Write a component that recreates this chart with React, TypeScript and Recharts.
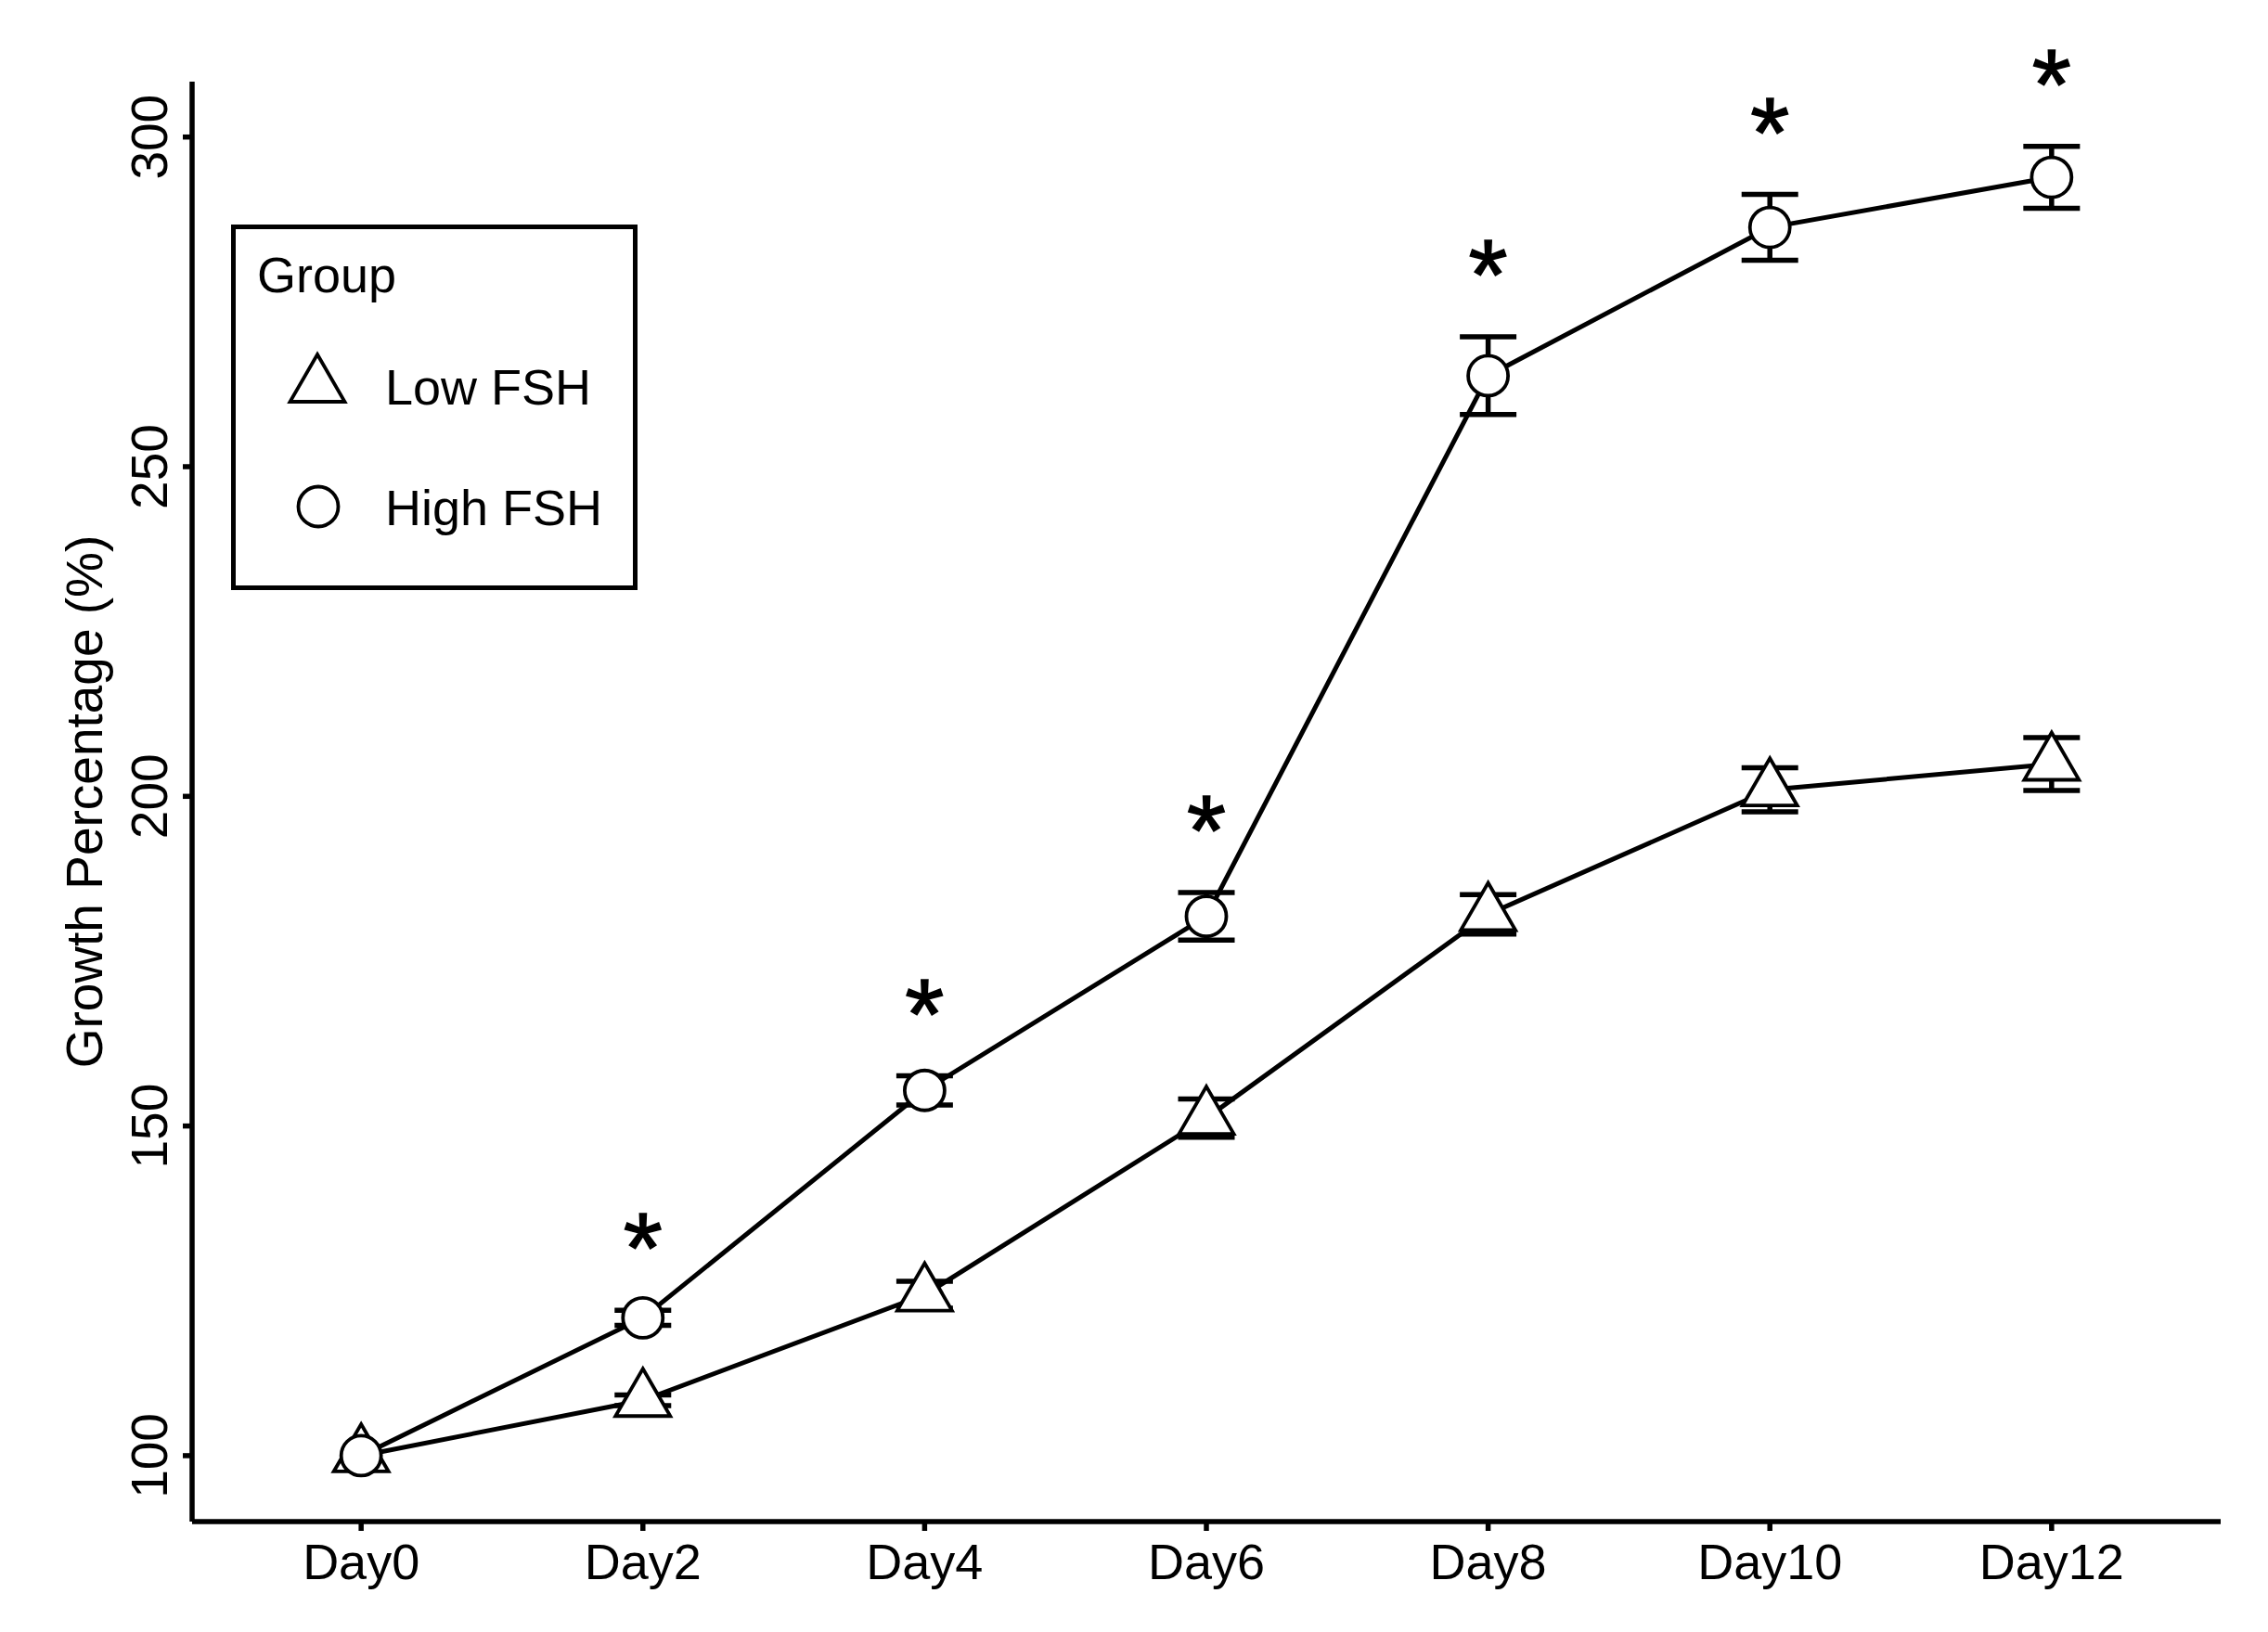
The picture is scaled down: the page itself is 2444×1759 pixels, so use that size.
import { LineChart, Line, XAxis, YAxis, ErrorBar, Legend } from 'recharts';

// growth (% of Day0) per group, mean and SE
const DAYS = [0, 2, 4, 6, 8, 10, 12];
const LOW_FSH = [100, 108.4, 124.4, 151.2, 182.1, 201.0, 204.9];
const LOW_FSH_SE = [0, 0.8, 2.05, 2.9, 3.0, 3.35, 4.0];
const HIGH_FSH = [100, 120.9, 155.4, 181.8, 263.8, 286.3, 293.9];
const HIGH_FSH_SE = [0, 1.15, 2.2, 3.6, 5.9, 5.0, 4.7];
const SIGNIFICANT = [false, true, true, true, true, true, true];
const Y_TICKS = [100, 150, 200, 250, 300];
const LEGEND_ORDER = ['low', 'high'];

const FONT = '"Liberation Sans", Arial, Helvetica, sans-serif';

const data = DAYS.map((day, i) => ({
  day,
  low: LOW_FSH[i],
  lowErr: LOW_FSH_SE[i],
  high: HIGH_FSH[i],
  highErr: HIGH_FSH_SE[i],
  star: SIGNIFICANT[i] ? HIGH_FSH[i] + HIGH_FSH_SE[i] : null,
}));

function TriangleMark({ cx, cy }: { cx: number; cy: number }) {
  return (
    <path
      d={`M${cx},${cy - 34}L${cx + 29.5},${cy + 17}L${cx - 29.5},${cy + 17}Z`}
      fill="#fff"
      stroke="#000"
      strokeWidth={3.8}
    />
  );
}

function CircleMark({ cx, cy }: { cx: number; cy: number }) {
  return <circle cx={cx} cy={cy} r={21.5} fill="#fff" stroke="#000" strokeWidth={3.8} />;
}

const renderTriangle = (p: any) =>
  p.cx == null || p.cy == null ? null : <TriangleMark key={`t${p.index}`} cx={p.cx} cy={p.cy} />;
const renderCircle = (p: any) =>
  p.cx == null || p.cy == null ? null : <CircleMark key={`c${p.index}`} cx={p.cx} cy={p.cy} />;

// asterisk sits a fixed distance above the upper error cap
const renderStar = (p: any) => {
  if (p.cx == null || p.cy == null || p.value == null) return null;
  return (
    <text
      key={`s${p.index}`}
      x={p.cx}
      y={p.cy - 30}
      textAnchor="middle"
      fontSize={108}
      fontFamily={FONT}
      fill="#000"
      stroke="#000"
      strokeWidth={1.5}
    >
      *
    </text>
  );
};

const YTick = (props: any) => {
  const { x, y, payload } = props;
  return (
    <text
      x={x}
      y={y}
      transform={`rotate(-90, ${x}, ${y})`}
      textAnchor="middle"
      fontSize={55}
      fontFamily={FONT}
      fill="#000"
    >
      {payload.value}
    </text>
  );
};

const YLabel = (props: any) => {
  const vb = props.viewBox || { x: 0, y: 88, width: 207, height: 1552 };
  const x = vb.x + 110;
  const y = vb.y + vb.height / 2;
  return (
    <text
      x={x}
      y={y}
      transform={`rotate(-90, ${x}, ${y})`}
      textAnchor="middle"
      fontSize={55}
      fontFamily={FONT}
      fill="#000"
    >
      Growth Percentage (%)
    </text>
  );
};

const renderLegend = (props: any) => {
  const items = (props.payload || [])
    .filter((e: any) => LEGEND_ORDER.includes(e.dataKey) && e.type !== 'none')
    .sort((a: any, b: any) => LEGEND_ORDER.indexOf(a.dataKey) - LEGEND_ORDER.indexOf(b.dataKey));
  return (
    <svg width={438} height={394} style={{ display: 'block' }}>
      <rect x={2.5} y={2.5} width={433} height={389} fill="#fff" stroke="#000" strokeWidth={5} />
      <text x={28} y={73} fontSize={54} fontFamily={FONT} fill="#000">
        Group
      </text>
      {items.map((e: any, i: number) => {
        const cy = 174 + i * 130;
        return (
          <g key={e.value}>
            {e.dataKey === 'low' ? <TriangleMark cx={93} cy={cy} /> : <CircleMark cx={94} cy={cy} />}
            <text x={166} y={cy + 20} fontSize={54} fontFamily={FONT} fill="#000">
              {e.value}
            </text>
          </g>
        );
      })}
    </svg>
  );
};

export default function App() {
  return (
    <div style={{ position: 'absolute', left: 0, top: 0, background: '#fff' }}>
      <LineChart width={2444} height={1759} data={data} margin={{ top: 88, right: 51, bottom: 0, left: 0 }}>
        <XAxis
          type="number"
          dataKey="day"
          domain={[-1.2, 13.2]}
          ticks={DAYS}
          tickFormatter={(d: number) => `Day${d}`}
          height={119}
          tickSize={10}
          tickMargin={14}
          axisLine={{ stroke: '#000', strokeWidth: 5.5 }}
          tickLine={{ stroke: '#000', strokeWidth: 5.5 }}
          tick={{ fontSize: 54, fill: '#000', fontFamily: FONT }}
        />
        <YAxis
          type="number"
          domain={[90, 308.4]}
          ticks={Y_TICKS}
          width={207}
          tickSize={10}
          tickMargin={17}
          axisLine={{ stroke: '#000', strokeWidth: 5.5 }}
          tickLine={{ stroke: '#000', strokeWidth: 5.5 }}
          tick={YTick}
          label={<YLabel />}
        />
        <Legend
          layout="vertical"
          align="center"
          verticalAlign="middle"
          content={renderLegend}
          wrapperStyle={{ left: 249, top: 242, width: 438, height: 394 }}
        />
        <Line
          dataKey="low"
          name="Low FSH"
          type="linear"
          stroke="#000"
          strokeWidth={5}
          dot={renderTriangle}
          activeDot={false}
          isAnimationActive={false}
        />
        <Line
          dataKey="high"
          name="High FSH"
          type="linear"
          stroke="#000"
          strokeWidth={5}
          dot={renderCircle}
          activeDot={false}
          isAnimationActive={false}
        />
        <Line dataKey="low" stroke="none" dot={false} activeDot={false} legendType="none" isAnimationActive={false}>
          <ErrorBar dataKey="lowErr" direction="y" width={30.5} stroke="#000" strokeWidth={5.5} />
        </Line>
        <Line dataKey="high" stroke="none" dot={false} activeDot={false} legendType="none" isAnimationActive={false}>
          <ErrorBar dataKey="highErr" direction="y" width={30.5} stroke="#000" strokeWidth={5.5} />
        </Line>
        <Line
          dataKey="star"
          stroke="none"
          dot={renderStar}
          activeDot={false}
          legendType="none"
          isAnimationActive={false}
        />
      </LineChart>
    </div>
  );
}
